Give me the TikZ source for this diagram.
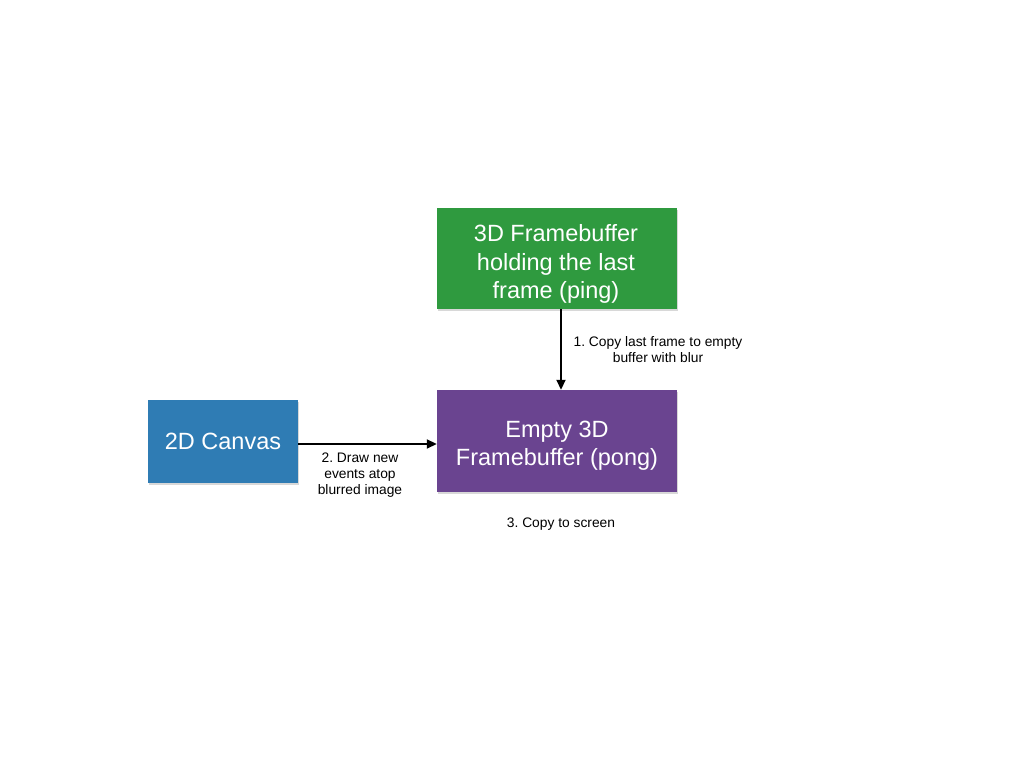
\documentclass[tikz,border=0pt]{standalone}
\usepackage{fontspec}
\setmainfont{Liberation Sans}
\usetikzlibrary{arrows.meta,shadows}
\definecolor{boxgreen}{HTML}{2F9A3F}
\definecolor{boxblue}{HTML}{2F7CB4}
\definecolor{boxpurple}{HTML}{6A4490}
\tikzset{
  box/.style={draw=none, inner sep=0pt,
    drop shadow={shadow xshift=1pt, shadow yshift=-2pt, opacity=0.3}},
  boxtext/.style={text=white, align=center, font=\fontsize{23.5}{28.5}\selectfont, inner sep=0pt},
  lbl/.style={align=center, font=\fontsize{13.8}{16}\selectfont, inner sep=0pt},
  conn/.style={line width=1.8pt, -{Triangle[length=10pt,width=9pt]}}
}
\begin{document}
\frenchspacing
\begin{tikzpicture}[x=1pt,y=1pt]
\useasboundingbox (0,0) rectangle (1024,768);
\fill[white] (0,0) rectangle (1024,768);
\node[box, fill=boxgreen, minimum width=240pt, minimum height=101pt] (ping) at (557,509.5) {};
\node[boxtext] (pingt) at (556,504) {3D Framebuffer\\holding the last\\frame (ping)};
\node[box, fill=boxpurple, minimum width=240pt, minimum height=102pt] (pong) at (557,327) {};
\node[boxtext] (pongt) at (557,322.5) {Empty 3D\\Framebuffer (pong)};
\node[box, fill=boxblue, minimum width=150pt, minimum height=83pt] (canvas) at (223,326.5) {};
\node[boxtext] (canvast) at (223,326.5) {2D Canvas};
\draw[conn] ([xshift=4pt]ping.south) -- ([xshift=4pt]pong.north);
\draw[conn] ([yshift=-2.5pt]canvas.east) -- ([yshift=-2.5pt]canvas.east -| pong.west);
\node[lbl] (l1) at (658,418) {1. Copy last frame to empty\\buffer with blur};
\node[lbl] (l2) at (360,293) {2. Draw new\\events atop\\blurred image};
\node[lbl] (l3) at (561,244) {3. Copy to screen};
\end{tikzpicture}
\end{document}
